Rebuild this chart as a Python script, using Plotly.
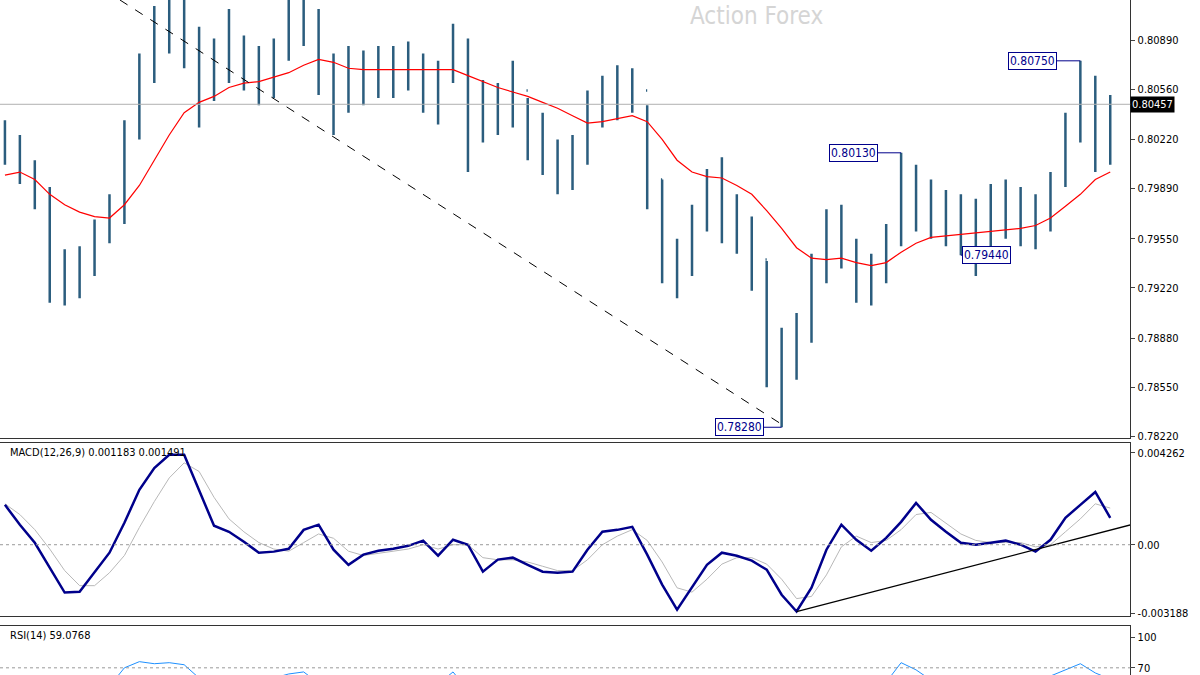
import plotly.graph_objects as go

# bar data (one bar per index)
closes = [0.8022, 0.8005, 0.7988, 0.7941, 0.7927, 0.7934, 0.7958, 0.7971, 0.8028, 0.8069,
          0.8089, 0.8109, 0.8082, 0.8062, 0.8076, 0.8082, 0.8072, 0.8065, 0.8082, 0.8106,
          0.8109, 0.8076, 0.8055, 0.8069, 0.8062, 0.8076, 0.8069, 0.8076, 0.8055, 0.8062,
          0.8089, 0.8028, 0.8049, 0.8042, 0.8055, 0.8022, 0.8018, 0.8001, 0.8011, 0.8042,
          0.8052, 0.8055, 0.8055, 0.7995, 0.7947, 0.7934, 0.7968, 0.7991, 0.7964, 0.7961,
          0.7941, 0.7887, 0.7870, 0.7894, 0.7934, 0.7954, 0.7951, 0.7927, 0.7931, 0.7954,
          0.7998, 0.7988, 0.7971, 0.7971, 0.7968, 0.7961, 0.7978, 0.7971, 0.7971, 0.7964,
          0.7995, 0.8028, 0.8062, 0.8015, 0.80457]
highs = [0.8035, 0.8025, 0.8008, 0.7990, 0.7948, 0.7950, 0.7968, 0.7985, 0.8035, 0.8080,
         0.8112, 0.8125, 0.8118, 0.8098, 0.8090, 0.8110, 0.8092, 0.8085, 0.8090, 0.8125,
         0.8125, 0.8110, 0.8080, 0.8085, 0.8082, 0.8085, 0.8085, 0.8088, 0.8080, 0.8075,
         0.8100, 0.8090, 0.8062, 0.8060, 0.8075, 0.8050, 0.8040, 0.8022, 0.8025, 0.8055,
         0.8065, 0.8072, 0.8070, 0.8045, 0.7995, 0.7955, 0.7978, 0.8002, 0.8010, 0.7985,
         0.7970, 0.7940, 0.7895, 0.7905, 0.7945, 0.7975, 0.7978, 0.7955, 0.7945, 0.7965,
         0.8013, 0.8005, 0.7995, 0.7988, 0.7985, 0.7982, 0.7992, 0.7995, 0.7990, 0.7985,
         0.8000, 0.8040, 0.8075, 0.8065, 0.8052]
lows = [0.8005, 0.7992, 0.7975, 0.7912, 0.7910, 0.7915, 0.7930, 0.7952, 0.7965, 0.8022,
        0.8060, 0.8080, 0.8070, 0.8030, 0.8048, 0.8060, 0.8055, 0.8045, 0.8050, 0.8075,
        0.8085, 0.8052, 0.8025, 0.8040, 0.8045, 0.8050, 0.8050, 0.8055, 0.8040, 0.8032,
        0.8060, 0.8000, 0.8020, 0.8025, 0.8030, 0.8008, 0.7998, 0.7985, 0.7988, 0.8005,
        0.8030, 0.8035, 0.8040, 0.7975, 0.7925, 0.7915, 0.7930, 0.7960, 0.7952, 0.7945,
        0.7920, 0.7855, 0.7828, 0.7860, 0.7885, 0.7925, 0.7935, 0.7912, 0.7910, 0.7925,
        0.7950, 0.7960, 0.7955, 0.7950, 0.7944, 0.7930, 0.7950, 0.7955, 0.7950, 0.7948,
        0.7960, 0.7990, 0.8020, 0.8000, 0.8005]
ma = [0.7998, 0.8000, 0.7995, 0.7985, 0.7978, 0.7973, 0.7970, 0.7969, 0.7978, 0.7991,
      0.8008, 0.8025, 0.8040, 0.8047, 0.8051, 0.8057, 0.8060, 0.8061, 0.8064, 0.8067,
      0.8072, 0.8076, 0.8074, 0.8070, 0.8069, 0.8069, 0.8069, 0.8069, 0.8069, 0.8069,
      0.8069, 0.8065, 0.8061, 0.8057, 0.8054, 0.8051, 0.8047, 0.8043, 0.8038, 0.8033,
      0.8034, 0.8036, 0.8038, 0.8034, 0.8022, 0.8008, 0.8000, 0.7997, 0.7996, 0.7991,
      0.7985, 0.7974, 0.7962, 0.7949, 0.7942, 0.7941, 0.7942, 0.7939, 0.7937, 0.7939,
      0.7946, 0.7952, 0.7956, 0.7957, 0.7958, 0.7959, 0.7960, 0.7961, 0.7962, 0.7964,
      0.7969, 0.7977, 0.7985, 0.7995, 0.8000]
macd = [0.00185, 0.00093, 0.00009, -0.00106, -0.00222, -0.00218, -0.00125, -0.00037, 0.00102, 0.00255,
        0.00356, 0.00417, 0.00417, 0.00255, 0.00088, 0.00060, 0.00014, -0.00037, -0.00032, -0.00019,
        0.00069, 0.00093, -0.00023, -0.00093, -0.00046, -0.00028, -0.00019, -0.00005, 0.00019, -0.00051,
        0.00023, 0.0, -0.00125, -0.00069, -0.00060, -0.00093, -0.00125, -0.00130, -0.00125, -0.00023,
        0.00060, 0.00069, 0.00083, -0.00046, -0.00185, -0.00301, -0.00199, -0.00093, -0.00037, -0.00051,
        -0.00074, -0.00116, -0.00232, -0.00310, -0.00199, -0.00023, 0.00093, 0.00023, -0.00028, 0.00032,
        0.00106, 0.00194, 0.00116, 0.00060, 0.00009, 0.0, 0.00009, 0.00019, 0.0, -0.00032,
        0.00023, 0.00125, 0.00185, 0.00245, 0.00125]
signal = [0.0019, 0.0014, 0.0007, -0.0002, -0.0012, -0.0019, -0.0019, -0.0013, -0.0005, 0.0008,
          0.0020, 0.0031, 0.0038, 0.0034, 0.0022, 0.0012, 0.0006, 0.0001, -0.0002, -0.0003,
          0.0001, 0.0005, 0.0003, -0.0003, -0.0005, -0.0004, -0.0003, -0.0002, 0.0000, -0.0002,
          0.0000, 0.0000, -0.0006, -0.0007, -0.0007, -0.0008, -0.0010, -0.0012, -0.0012, -0.0007,
          0.0000, 0.0004, 0.0007, 0.0002, -0.0008, -0.0020, -0.0022, -0.0016, -0.0009, -0.0006,
          -0.0006, -0.0009, -0.0016, -0.0025, -0.0024, -0.0014, -0.0001, 0.0004, 0.0001, 0.0002,
          0.0007, 0.0014, 0.0015, 0.0010, 0.0005, 0.0002, 0.0001, 0.0001, 0.0001, -0.0001,
          0.0000, 0.0006, 0.0012, 0.0019, 0.0017]
rsi = [55, 50, 45, 38, 35, 38, 45, 52, 70, 76,
       74, 75, 73, 60, 58, 60, 57, 55, 60, 64,
       66, 55, 50, 55, 53, 58, 55, 57, 50, 54,
       66, 48, 53, 51, 55, 47, 46, 43, 46, 54,
       58, 60, 59, 42, 35, 33, 45, 52, 46, 45,
       40, 30, 28, 38, 48, 55, 54, 47, 48, 56,
       75, 68, 58, 57, 56, 54, 59, 57, 57, 55,
       62, 68, 74, 65, 59]
bars = list(range(len(closes)))
opens = [closes[0]] + closes[:-1]

price_ticks = [0.80890, 0.80560, 0.80220, 0.79890, 0.79550, 0.79220, 0.78880, 0.78550, 0.78220]
trend_x, trend_y = [7.7, 52], [0.8116, 0.7830]
macd_trend_x, macd_trend_y = [53, 75.4], [-0.0031, 0.00093]
last_price = 0.80457
marks = [(72, 0.8075, "0.80750", -48), (60, 0.8013, "0.80130", -48),
         (52, 0.7828, "0.78280", -42), (64, 0.7944, "0.79440", 26)]

BAR = "#2b5d7e"
NAVY = "#00008b"
FONT = "DejaVu Sans Condensed, DejaVu Sans"

fig = go.Figure()
fig.add_trace(go.Ohlc(x=bars, open=opens, high=highs, low=lows, close=closes,
                      increasing_line_color=BAR, decreasing_line_color=BAR,
                      line_width=2.5, tickwidth=0.08, xaxis="x", yaxis="y"))
fig.add_trace(go.Scatter(x=bars, y=ma, mode="lines", line=dict(color="red", width=1.2),
                         xaxis="x", yaxis="y"))
fig.add_trace(go.Scatter(x=trend_x, y=trend_y, mode="lines",
                         line=dict(color="black", width=1, dash="dash"), xaxis="x", yaxis="y"))
fig.add_trace(go.Scatter(x=bars, y=signal, mode="lines", line=dict(color="#b8b8b8", width=1),
                         xaxis="x2", yaxis="y2"))
fig.add_trace(go.Scatter(x=bars, y=macd, mode="lines", line=dict(color=NAVY, width=2.5),
                         xaxis="x2", yaxis="y2"))
fig.add_trace(go.Scatter(x=macd_trend_x, y=macd_trend_y, mode="lines",
                         line=dict(color="black", width=1.3), xaxis="x2", yaxis="y2"))
fig.add_trace(go.Scatter(x=bars, y=rsi, mode="lines", line=dict(color="#1e90ff", width=1),
                         xaxis="x3", yaxis="y3"))

xr = [-0.33, 75.35]
xcommon = dict(range=xr, showticklabels=False, showgrid=False, zeroline=False,
               showline=True, mirror=True, linecolor="#333", linewidth=1, domain=[0, 0.942])
ycommon = dict(side="right", showgrid=False, zeroline=False, showline=True, mirror=True,
               linecolor="#333", linewidth=1, ticks="outside", ticklen=4,
               tickfont=dict(size=11, color="black", family=FONT))

fig.update_layout(
    width=1200, height=675, margin=dict(l=0, r=0, t=0, b=0, autoexpand=False),
    paper_bgcolor="white", plot_bgcolor="white", showlegend=False,
    xaxis=dict(**xcommon, anchor="y", rangeslider=dict(visible=False)),
    xaxis2=dict(**xcommon, anchor="y2"),
    xaxis3=dict(**xcommon, anchor="y3"),
    yaxis=dict(**ycommon, domain=[0.351, 1], range=[0.78207, 0.8116],
               tickvals=price_ticks, ticktext=[f"{v:.5f}" for v in price_ticks], anchor="x"),
    yaxis2=dict(**ycommon, domain=[0.087, 0.344], range=[-0.00332, 0.00473],
                tickvals=[0.004262, 0, -0.003188], ticktext=["0.004262", "0.00", "-0.003188"], anchor="x2"),
    yaxis3=dict(**ycommon, domain=[0, 0.073], range=[63, 111],
                tickvals=[100, 70], ticktext=["100", "70"], anchor="x3"),
)

fig.add_hline(y=last_price, line=dict(color="#b0b0b0", width=1), xref="x", yref="y")
fig.add_hline(y=0, line=dict(color="#999", width=1, dash="dot"), yref="y2")
fig.add_hline(y=70, line=dict(color="#999", width=1, dash="dot"), yref="y3")

for b, p, txt, off in marks:
    fig.add_annotation(x=b, y=p, xref="x", yref="y", text=txt, showarrow=True,
                       ax=off, ay=0, arrowhead=0, arrowwidth=1, arrowcolor=NAVY,
                       font=dict(color=NAVY, size=12, family=FONT), bgcolor="white",
                       bordercolor=NAVY, borderwidth=1, borderpad=1)

fig.add_annotation(x=0.942, y=last_price, xref="paper", yref="y", text="0.80457",
                   showarrow=False, xanchor="left", bgcolor="black",
                   font=dict(color="white", size=11, family=FONT))
fig.add_annotation(x=0.63, y=1.0, xref="paper", yref="paper", text="Action Forex",
                   showarrow=False, yanchor="top", font=dict(color="#d5d5d5", size=24, family=FONT))
fig.add_annotation(x=0.007, y=0.342, xref="paper", yref="paper", text="MACD(12,26,9) 0.001183 0.001491",
                   showarrow=False, xanchor="left", yanchor="top", font=dict(size=11, color="black", family=FONT))
fig.add_annotation(x=0.007, y=0.071, xref="paper", yref="paper", text="RSI(14) 59.0768",
                   showarrow=False, xanchor="left", yanchor="top", font=dict(size=11, color="black", family=FONT))

fig.write_html("out.html", config={"displayModeBar": False},
               post_script="document.body.style.margin='0';")
